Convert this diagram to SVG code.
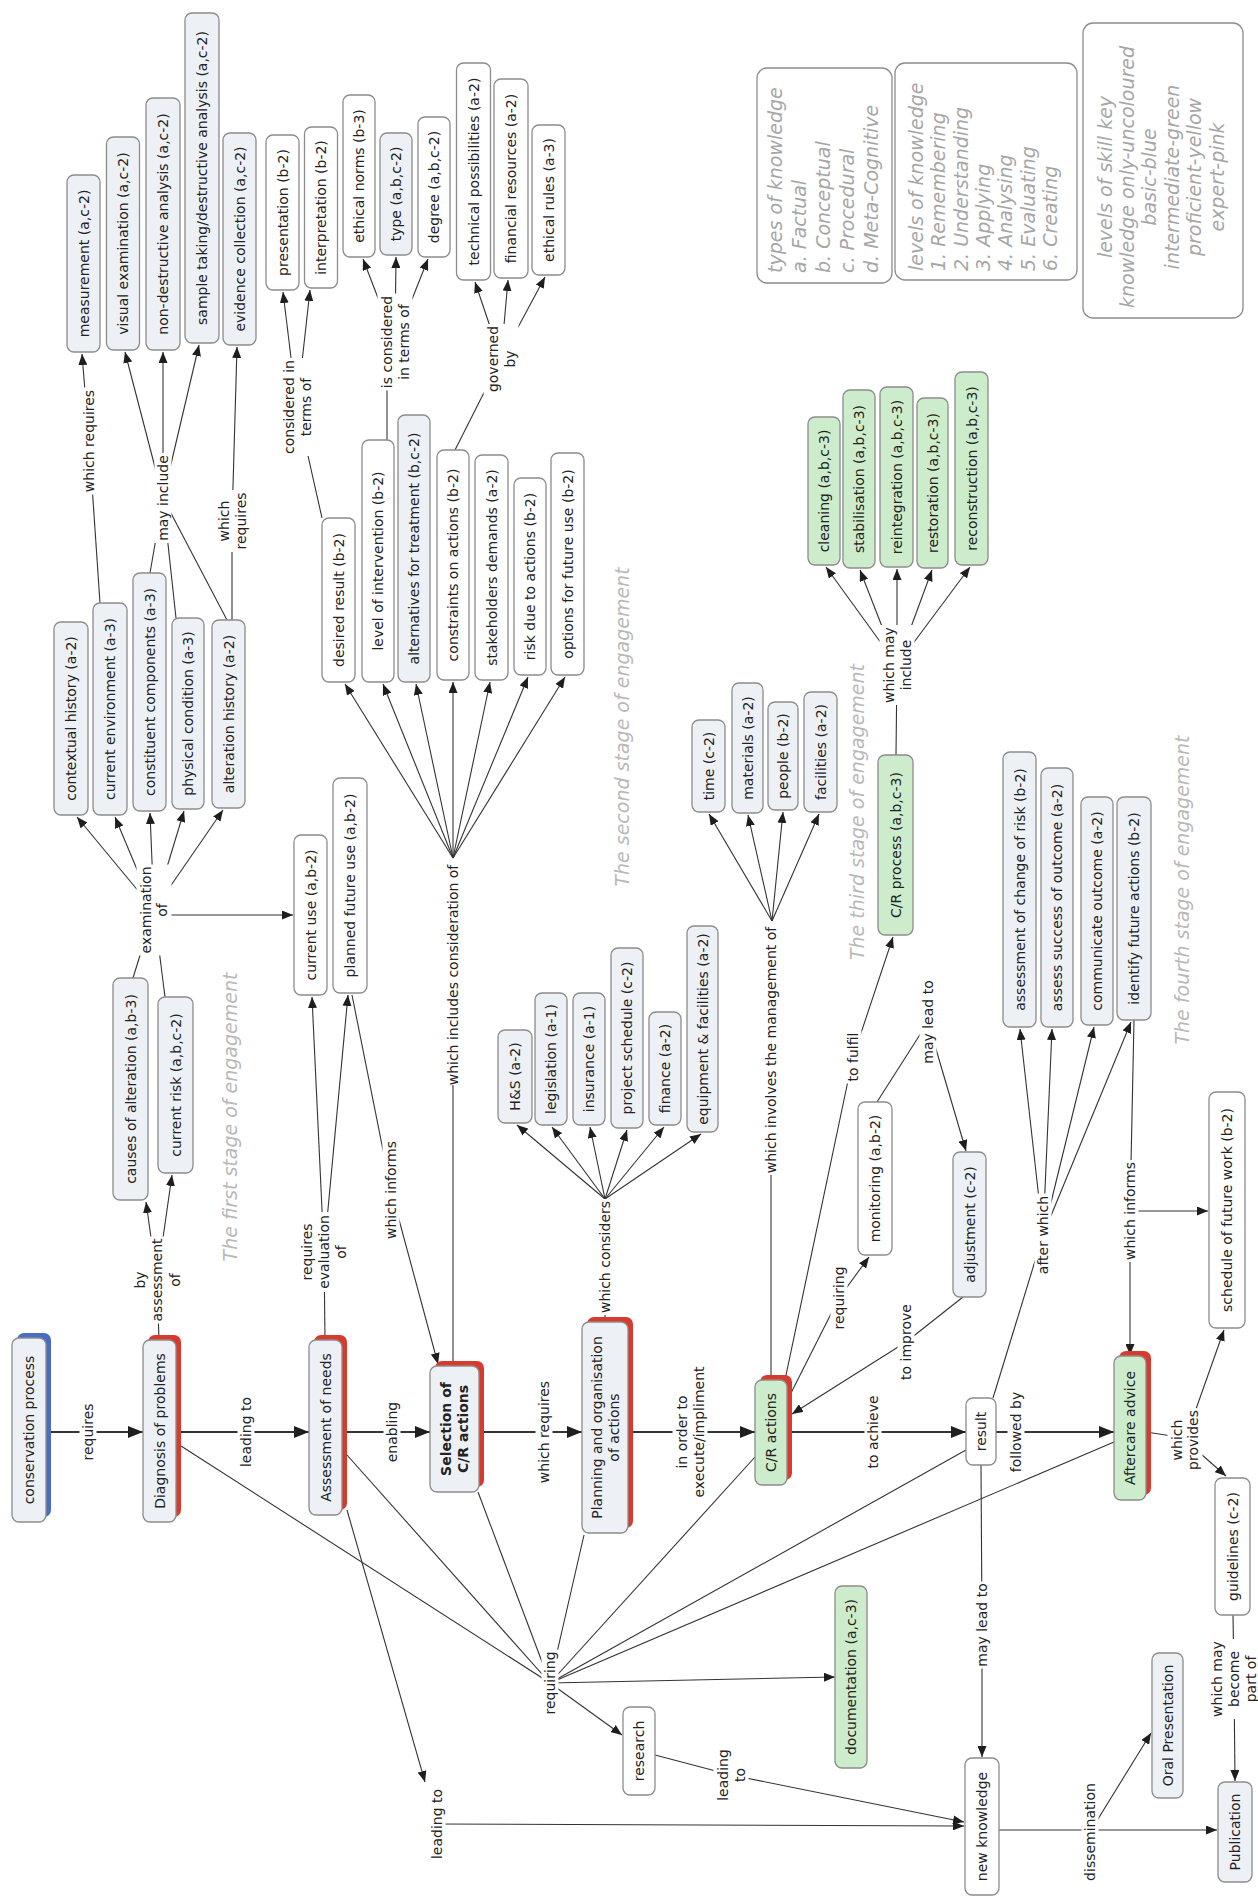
<svg xmlns="http://www.w3.org/2000/svg" width="1258" height="1899" viewBox="0 0 1258 1899">
<defs>
<style>
text { font-family: "DejaVu Sans", "Liberation Sans", sans-serif; font-size: 14px; text-anchor: middle; dominant-baseline: central; fill: #222; }
tspan { dominant-baseline: inherit; }
.node rect.box { stroke: #8c8c8c; stroke-width: 1.3; fill: #ffffff; }
.pale rect.box { fill: #edf1f6; }
.green rect.box { fill: #cdeccb; }
.red rect.sh { fill: #d83a2d; }
.blue rect.sh { fill: #4a6cc2; }
.bold text { font-weight: bold; }
#connectors line { stroke: #333; stroke-width: 1.1; fill: none; }
#connectors line.main { stroke-width: 2; }
#connectors .ar { marker-end: url(#ah); }
#connectors .arm { marker-end: url(#ahm); }
.lbl rect { fill: #ffffff; }
.stage text { font-size: 19px; font-style: italic; fill: #b8b8b8; }
.legend rect { fill: #ffffff; stroke: #8c8c8c; stroke-width: 1.3; }
.legend text { font-size: 19px; font-style: italic; fill: #a6a6a6; }
.legend .left text { text-anchor: start; }
</style>
<marker id="ah" viewBox="0 0 11 9" refX="11" refY="4.5" markerWidth="11" markerHeight="9" markerUnits="userSpaceOnUse" orient="auto"><path d="M0,0 L11,4.5 L0,9 z" fill="#1e1e1e"/></marker>
<marker id="ahm" viewBox="0 0 15 12" refX="15" refY="6" markerWidth="15" markerHeight="12" markerUnits="userSpaceOnUse" orient="auto"><path d="M0,0 L15,6 L0,12 z" fill="#1e1e1e"/></marker>
</defs>
<rect x="0" y="0" width="1258" height="1899" fill="#ffffff"/>

<!-- stage captions -->
<g class="stage">
<g transform="translate(230,1117) rotate(-90)"><text>The first stage of engagement</text></g>
<g transform="translate(622,727) rotate(-90)"><text>The second stage of engagement</text></g>
<g transform="translate(857,812) rotate(-90)"><text>The third stage of engagement</text></g>
<g transform="translate(1182,890) rotate(-90)"><text>The fourth stage of engagement</text></g>
</g>

<!-- legend boxes -->
<g class="legend">
<g id="key-types" class="left" transform="translate(824.5,175.5) rotate(-90)">
<rect x="-107.5" y="-67.5" width="215" height="135" rx="10"/>
<text x="-97.5" y="-49.5">types of knowledge</text>
<text x="-97.5" y="-25.5">a. Factual</text>
<text x="-97.5" y="-1.5">b. Conceptual</text>
<text x="-97.5" y="22.5">c. Procedural</text>
<text x="-97.5" y="46.5">d. Meta-Cognitive</text>
</g>
<g id="key-levels" class="left" transform="translate(986,171.5) rotate(-90)">
<rect x="-108.5" y="-91" width="217" height="182" rx="10"/>
<text x="-99.5" y="-70">levels of knowledge</text>
<text x="-99.5" y="-47.7">1. Remembering</text>
<text x="-99.5" y="-25.4">2. Understanding</text>
<text x="-99.5" y="-3.1">3. Applying</text>
<text x="-99.5" y="19.2">4. Analysing</text>
<text x="-99.5" y="41.5">5. Evaluating</text>
<text x="-99.5" y="63.8">6. Creating</text>
</g>
<g id="key-skill" transform="translate(1163,170.5) rotate(-90)">
<rect x="-147.5" y="-80" width="295" height="160" rx="10"/>
<text x="-6.5" y="-58.5">levels of skill key</text>
<text x="-6.5" y="-36.1">knowledge only-uncoloured</text>
<text x="-6.5" y="-13.7">basic-blue</text>
<text x="-6.5" y="8.7">intermediate-green</text>
<text x="-6.5" y="31.1">proficient-yellow</text>
<text x="-6.5" y="53.5">expert-pink</text>
</g>
</g>

<!-- connectors -->
<g id="connectors">
<line class="main arm" x1="46" y1="1432" x2="143" y2="1432"/>
<line class="main arm" x1="176" y1="1432" x2="309" y2="1432"/>
<line class="main arm" x1="342" y1="1432" x2="430" y2="1432"/>
<line class="main arm" x1="479" y1="1432" x2="582" y2="1432"/>
<line class="main arm" x1="628" y1="1432" x2="755" y2="1432"/>
<line class="main arm" x1="787" y1="1432" x2="966" y2="1432"/>
<line class="main arm" x1="996" y1="1432" x2="1114" y2="1432"/>
<line x1="1146" y1="1432" x2="1185" y2="1438"/>
<line class="ar" x1="1185" y1="1440" x2="1226" y2="1476"/>
<line class="ar" x1="1185" y1="1440" x2="1224" y2="1330"/>
<line x1="1233" y1="1615" x2="1234" y2="1679"/>
<line class="ar" x1="1234" y1="1679" x2="1235" y2="1781"/>
<line x1="981" y1="1465" x2="982" y2="1625"/>
<line class="ar" x1="982" y1="1625" x2="982" y2="1757"/>
<line class="ar" x1="999" y1="1830" x2="1217" y2="1830"/>
<line class="ar" x1="1090" y1="1832" x2="1151" y2="1733"/>
<line x1="655" y1="1755" x2="731" y2="1775"/>
<line class="ar" x1="731" y1="1775" x2="964" y2="1822"/>
<line class="ar" x1="347" y1="1510" x2="425" y2="1782"/>
<line class="ar" x1="437" y1="1824" x2="964" y2="1826"/>
<!-- links gathered by "requiring" -->
<line x1="181" y1="1446" x2="550" y2="1683"/>
<line x1="347" y1="1455" x2="550" y2="1683"/>
<line x1="478" y1="1492" x2="550" y2="1683"/>
<line x1="584" y1="1535" x2="550" y2="1683"/>
<line x1="755" y1="1457" x2="550" y2="1683"/>
<line x1="966" y1="1450" x2="550" y2="1683"/>
<line x1="1114" y1="1442" x2="550" y2="1683"/>
<line class="ar" x1="550" y1="1683" x2="835" y2="1677"/>
<line class="ar" x1="550" y1="1683" x2="622" y2="1735"/>
<!-- first stage -->
<line x1="159" y1="1340" x2="157" y2="1280"/>
<line class="ar" x1="157" y1="1280" x2="146" y2="1202"/>
<line class="ar" x1="157" y1="1280" x2="172" y2="1175"/>
<line x1="133" y1="978" x2="154" y2="910"/>
<line x1="165" y1="997" x2="154" y2="910"/>
<line class="ar" x1="154" y1="910" x2="77" y2="817"/>
<line class="ar" x1="154" y1="910" x2="115" y2="817"/>
<line class="ar" x1="154" y1="910" x2="150" y2="813"/>
<line class="ar" x1="154" y1="910" x2="184" y2="811"/>
<line class="ar" x1="154" y1="910" x2="223" y2="810"/>
<line class="ar" x1="160" y1="915" x2="293" y2="915"/>
<line x1="100" y1="603" x2="89" y2="441"/>
<line class="ar" x1="89" y1="441" x2="82" y2="354"/>
<line x1="150" y1="573" x2="163" y2="498"/>
<line x1="176" y1="618" x2="163" y2="498"/>
<line x1="227" y1="620" x2="163" y2="498"/>
<line class="ar" x1="163" y1="498" x2="125" y2="352"/>
<line class="ar" x1="163" y1="498" x2="163" y2="352"/>
<line class="ar" x1="163" y1="498" x2="199" y2="345"/>
<line x1="232" y1="620" x2="232" y2="521"/>
<line class="ar" x1="232" y1="521" x2="237" y2="347"/>
<line x1="325" y1="1340" x2="324" y2="1252"/>
<line class="ar" x1="324" y1="1252" x2="312" y2="997"/>
<line class="ar" x1="324" y1="1252" x2="348" y2="995"/>
<line x1="352" y1="995" x2="391" y2="1190"/>
<line class="ar" x1="391" y1="1190" x2="438" y2="1364"/>
<!-- second stage: considerations -->
<line x1="453" y1="1366" x2="453" y2="975"/>
<line class="ar" x1="453" y1="858" x2="345" y2="684"/>
<line class="ar" x1="453" y1="858" x2="383" y2="684"/>
<line class="ar" x1="453" y1="858" x2="416" y2="684"/>
<line class="ar" x1="453" y1="858" x2="453" y2="682"/>
<line class="ar" x1="453" y1="858" x2="490" y2="682"/>
<line class="ar" x1="453" y1="858" x2="528" y2="677"/>
<line class="ar" x1="453" y1="858" x2="565" y2="677"/>
<line x1="322" y1="518" x2="297" y2="407"/>
<line class="ar" x1="297" y1="407" x2="283" y2="292"/>
<line class="ar" x1="297" y1="407" x2="310" y2="290"/>
<line x1="387" y1="440" x2="387" y2="342"/>
<line class="ar" x1="395" y1="342" x2="363" y2="259"/>
<line class="ar" x1="395" y1="342" x2="396" y2="257"/>
<line class="ar" x1="395" y1="342" x2="428" y2="259"/>
<line x1="455" y1="450" x2="501" y2="359"/>
<line class="ar" x1="501" y1="359" x2="475" y2="282"/>
<line class="ar" x1="501" y1="359" x2="508" y2="280"/>
<line class="ar" x1="501" y1="359" x2="545" y2="277"/>
<!-- planning -->
<line x1="605" y1="1322" x2="605" y2="1257"/>
<line class="ar" x1="605" y1="1199" x2="517" y2="1125"/>
<line class="ar" x1="605" y1="1199" x2="552" y2="1127"/>
<line class="ar" x1="605" y1="1199" x2="590" y2="1127"/>
<line class="ar" x1="605" y1="1199" x2="627" y2="1130"/>
<line class="ar" x1="605" y1="1199" x2="664" y2="1127"/>
<line class="ar" x1="605" y1="1199" x2="701" y2="1134"/>
<!-- third stage -->
<line x1="771" y1="1380" x2="771" y2="1050"/>
<line class="ar" x1="772" y1="921" x2="709" y2="814"/>
<line class="ar" x1="772" y1="921" x2="748" y2="815"/>
<line class="ar" x1="772" y1="921" x2="783" y2="812"/>
<line class="ar" x1="772" y1="921" x2="819" y2="814"/>
<line x1="785" y1="1380" x2="853" y2="1057"/>
<line class="ar" x1="853" y1="1057" x2="893" y2="937"/>
<line x1="790" y1="1395" x2="839" y2="1298"/>
<line class="ar" x1="839" y1="1298" x2="869" y2="1257"/>
<line x1="877" y1="1102" x2="928" y2="1022"/>
<line class="ar" x1="928" y1="1022" x2="966" y2="1151"/>
<line x1="963" y1="1297" x2="906" y2="1342"/>
<line class="ar" x1="906" y1="1342" x2="792" y2="1414"/>
<line x1="896" y1="755" x2="897" y2="665"/>
<line class="ar" x1="897" y1="665" x2="826" y2="567"/>
<line class="ar" x1="897" y1="665" x2="860" y2="570"/>
<line class="ar" x1="897" y1="665" x2="897" y2="569"/>
<line class="ar" x1="897" y1="665" x2="932" y2="570"/>
<line class="ar" x1="897" y1="665" x2="970" y2="567"/>
<!-- fourth stage -->
<line x1="993" y1="1398" x2="1043" y2="1235"/>
<line class="ar" x1="1043" y1="1235" x2="1020" y2="1029"/>
<line class="ar" x1="1043" y1="1235" x2="1052" y2="1029"/>
<line class="ar" x1="1043" y1="1235" x2="1094" y2="1027"/>
<line class="ar" x1="1043" y1="1235" x2="1131" y2="1022"/>
<line x1="1134" y1="1020" x2="1130" y2="1211"/>
<line class="ar" x1="1130" y1="1211" x2="1130" y2="1355"/>
<line class="ar" x1="1130" y1="1211" x2="1208" y2="1211"/>
</g>

<!-- linking phrases -->
<g id="labels">
<g id="l-requires" class="lbl" transform="translate(88,1432) rotate(-90)"><rect x="-31" y="-8.5" width="62" height="17"/><text>requires</text></g>
<g id="l-leading-to-1" class="lbl" transform="translate(246,1432) rotate(-90)"><rect x="-37" y="-8.5" width="74" height="17"/><text>leading to</text></g>
<g id="l-enabling" class="lbl" transform="translate(392,1432) rotate(-90)"><rect x="-32.5" y="-8.5" width="65" height="17"/><text>enabling</text></g>
<g id="l-which-requires-1" class="lbl" transform="translate(544,1432) rotate(-90)"><rect x="-53.5" y="-8.5" width="107" height="17"/><text>which requires</text></g>
<g id="l-in-order-to" class="lbl" transform="translate(690,1432) rotate(-90)"><rect x="-68" y="-17.5" width="136" height="35"/><text><tspan x="0" y="-8.5">in order to</tspan><tspan x="0" y="8.5">execute/impliment</tspan></text></g>
<g id="l-to-achieve" class="lbl" transform="translate(873,1432) rotate(-90)"><rect x="-38.5" y="-8.5" width="77" height="17"/><text>to achieve</text></g>
<g id="l-followed-by" class="lbl" transform="translate(1016,1432) rotate(-90)"><rect x="-42" y="-8.5" width="84" height="17"/><text>followed by</text></g>
<g id="l-which-provides" class="lbl" transform="translate(1185,1440) rotate(-90)"><rect x="-32" y="-17.5" width="64" height="35"/><text><tspan x="0" y="-8">which</tspan><tspan x="0" y="8">provides</tspan></text></g>
<g id="l-may-become" class="lbl" transform="translate(1234,1679) rotate(-90)"><rect x="-40" y="-25.5" width="80" height="51"/><text><tspan x="0" y="-17">which may</tspan><tspan x="0" y="0">become</tspan><tspan x="0" y="17">part of</tspan></text></g>
<g id="l-may-lead-to-2" class="lbl" transform="translate(982,1625) rotate(-90)"><rect x="-43.5" y="-8.5" width="87" height="17"/><text>may lead to</text></g>
<g id="l-dissemination" class="lbl" transform="translate(1090,1832) rotate(-90)"><rect x="-51" y="-8.5" width="102" height="17"/><text>dissemination</text></g>
<g id="l-leading-to-2" class="lbl" transform="translate(731,1775) rotate(-90)"><rect x="-28" y="-17.5" width="56" height="35"/><text><tspan x="0" y="-8.5">leading</tspan><tspan x="0" y="8.5">to</tspan></text></g>
<g id="l-leading-to-3" class="lbl" transform="translate(437,1824) rotate(-90)"><rect x="-37" y="-8.5" width="74" height="17"/><text>leading to</text></g>
<g id="l-requiring-1" class="lbl" transform="translate(550,1683) rotate(-90)"><rect x="-33.5" y="-8.5" width="67" height="17"/><text>requiring</text></g>
<g id="l-by-assessment" class="lbl" transform="translate(157,1280) rotate(-90)"><rect x="-43.5" y="-25.5" width="87" height="51"/><text><tspan x="0" y="-17.5">by</tspan><tspan x="0" y="0">assessment</tspan><tspan x="0" y="17.5">of</tspan></text></g>
<g id="l-examination" class="lbl" transform="translate(154,910) rotate(-90)"><rect x="-45.5" y="-17.5" width="91" height="35"/><text><tspan x="0" y="-8">examination</tspan><tspan x="0" y="8">of</tspan></text></g>
<g id="l-requires-evaluation" class="lbl" transform="translate(324,1252) rotate(-90)"><rect x="-40" y="-25.5" width="80" height="51"/><text><tspan x="0" y="-17">requires</tspan><tspan x="0" y="0">evaluation</tspan><tspan x="0" y="17">of</tspan></text></g>
<g id="l-which-informs-1" class="lbl" transform="translate(391,1190) rotate(-90)"><rect x="-51" y="-8.5" width="102" height="17"/><text>which informs</text></g>
<g id="l-includes" class="lbl" transform="translate(453,975) rotate(-90)"><rect x="-110" y="-8.5" width="220" height="17"/><text>which includes consideration of</text></g>
<g id="l-considered" class="lbl" transform="translate(297,407) rotate(-90)"><rect x="-49" y="-17.5" width="98" height="35"/><text><tspan x="0" y="-8.5">considered in</tspan><tspan x="0" y="8.5">terms of</tspan></text></g>
<g id="l-is-considered" class="lbl" transform="translate(395,342) rotate(-90)"><rect x="-48.5" y="-17.5" width="97" height="35"/><text><tspan x="0" y="-8.5">is considered</tspan><tspan x="0" y="8.5">in terms of</tspan></text></g>
<g id="l-governed" class="lbl" transform="translate(501,359) rotate(-90)"><rect x="-35" y="-17.5" width="70" height="35"/><text><tspan x="0" y="-8.5">governed</tspan><tspan x="0" y="8.5">by</tspan></text></g>
<g id="l-which-requires-2" class="lbl" transform="translate(89,441) rotate(-90)"><rect x="-53.5" y="-8.5" width="107" height="17"/><text>which requires</text></g>
<g id="l-may-include" class="lbl" transform="translate(163,498) rotate(-90)"><rect x="-45" y="-8.5" width="90" height="17"/><text>may include</text></g>
<g id="l-which-requires-3" class="lbl" transform="translate(232,521) rotate(-90)"><rect x="-31" y="-17.5" width="62" height="35"/><text><tspan x="0" y="-8.5">which</tspan><tspan x="0" y="8.5">requires</tspan></text></g>
<g id="l-after-which" class="lbl" transform="translate(1043,1235) rotate(-90)"><rect x="-41.5" y="-8.5" width="83" height="17"/><text>after which</text></g>
<g id="l-which-informs-2" class="lbl" transform="translate(1130,1211) rotate(-90)"><rect x="-51" y="-8.5" width="102" height="17"/><text>which informs</text></g>
<g id="l-may-lead-to-1" class="lbl" transform="translate(928,1022) rotate(-90)"><rect x="-43.5" y="-8.5" width="87" height="17"/><text>may lead to</text></g>
<g id="l-to-improve" class="lbl" transform="translate(906,1342) rotate(-90)"><rect x="-40" y="-8.5" width="80" height="17"/><text>to improve</text></g>
<g id="l-requiring-2" class="lbl" transform="translate(839,1298) rotate(-90)"><rect x="-33.5" y="-8.5" width="67" height="17"/><text>requiring</text></g>
<g id="l-to-fulfil" class="lbl" transform="translate(853,1057) rotate(-90)"><rect x="-26.5" y="-8.5" width="53" height="17"/><text>to fulfil</text></g>
<g id="l-which-may-include" class="lbl" transform="translate(897,665) rotate(-90)"><rect x="-40" y="-17.5" width="80" height="35"/><text><tspan x="0" y="-8.5">which may</tspan><tspan x="0" y="8.5">include</tspan></text></g>
<g id="l-management" class="lbl" transform="translate(771,1050) rotate(-90)"><rect x="-125" y="-8.5" width="250" height="17"/><text>which involves the management of</text></g>
<g id="l-which-considers" class="lbl" transform="translate(605,1257) rotate(-90)"><rect x="-58" y="-8.5" width="116" height="17"/><text>which considers</text></g>
</g>

<!-- concepts -->
<g id="nodes">
<g id="n-measurement" class="node pale" transform="translate(83.5,263.5) rotate(-90)"><rect class="box" x="-88.5" y="-16.5" width="177" height="33" rx="7"/><text>measurement (a,c-2)</text></g>
<g id="n-visual-examination" class="node pale" transform="translate(123,243.5) rotate(-90)"><rect class="box" x="-106.5" y="-16.5" width="213" height="33" rx="7"/><text>visual examination (a,c-2)</text></g>
<g id="n-non-destructive" class="node pale" transform="translate(163,224) rotate(-90)"><rect class="box" x="-126" y="-17" width="252" height="34" rx="7"/><text>non-destructive analysis (a,c-2)</text></g>
<g id="n-sample-taking" class="node pale" transform="translate(202,178) rotate(-90)"><rect class="box" x="-165" y="-17" width="330" height="34" rx="7"/><text>sample taking/destructive analysis (a,c-2)</text></g>
<g id="n-evidence" class="node pale" transform="translate(239.5,239) rotate(-90)"><rect class="box" x="-106" y="-16.5" width="212" height="33" rx="7"/><text>evidence collection (a,c-2)</text></g>
<g id="n-presentation" class="node" transform="translate(282.5,212.5) rotate(-90)"><rect class="box" x="-77.5" y="-16.5" width="155" height="33" rx="7"/><text>presentation (b-2)</text></g>
<g id="n-interpretation" class="node" transform="translate(321,207.5) rotate(-90)"><rect class="box" x="-80.5" y="-16.5" width="161" height="33" rx="7"/><text>interpretation (b-2)</text></g>
<g id="n-ethical-norms" class="node" transform="translate(359,176) rotate(-90)"><rect class="box" x="-81" y="-16" width="162" height="32" rx="7"/><text>ethical norms (b-3)</text></g>
<g id="n-type" class="node pale" transform="translate(396,194) rotate(-90)"><rect class="box" x="-61" y="-16" width="122" height="32" rx="7"/><text>type (a,b,c-2)</text></g>
<g id="n-degree" class="node" transform="translate(434,187) rotate(-90)"><rect class="box" x="-70" y="-16" width="140" height="32" rx="7"/><text>degree (a,b,c-2)</text></g>
<g id="n-technical" class="node" transform="translate(473.5,171.5) rotate(-90)"><rect class="box" x="-108.5" y="-17" width="217" height="34" rx="7"/><text>technical possibilities (a-2)</text></g>
<g id="n-financial" class="node" transform="translate(511,178.5) rotate(-90)"><rect class="box" x="-99.5" y="-17" width="199" height="34" rx="7"/><text>financial resources (a-2)</text></g>
<g id="n-ethical-rules" class="node" transform="translate(548.5,200) rotate(-90)"><rect class="box" x="-75" y="-16.5" width="150" height="33" rx="7"/><text>ethical rules (a-3)</text></g>

<g id="n-contextual-history" class="node pale" transform="translate(71,718.5) rotate(-90)"><rect class="box" x="-96.5" y="-17" width="193" height="34" rx="7"/><text>contextual history (a-2)</text></g>
<g id="n-current-environment" class="node pale" transform="translate(110,709) rotate(-90)"><rect class="box" x="-106" y="-17" width="212" height="34" rx="7"/><text>current environment (a-3)</text></g>
<g id="n-constituent" class="node pale" transform="translate(149.5,692) rotate(-90)"><rect class="box" x="-119" y="-16.5" width="238" height="33" rx="7"/><text>constituent components (a-3)</text></g>
<g id="n-physical" class="node pale" transform="translate(188,713.5) rotate(-90)"><rect class="box" x="-95.5" y="-16" width="191" height="32" rx="7"/><text>physical condition (a-3)</text></g>
<g id="n-alteration-history" class="node pale" transform="translate(228.5,714) rotate(-90)"><rect class="box" x="-94" y="-16.5" width="188" height="33" rx="7"/><text>alteration history (a-2)</text></g>
<g id="n-desired-result" class="node" transform="translate(338.5,600) rotate(-90)"><rect class="box" x="-82" y="-16.5" width="164" height="33" rx="7"/><text>desired result (b-2)</text></g>
<g id="n-level" class="node" transform="translate(378,561) rotate(-90)"><rect class="box" x="-121" y="-16" width="242" height="32" rx="7"/><text>level of intervention (b-2)</text></g>
<g id="n-alternatives" class="node pale" transform="translate(414,548.5) rotate(-90)"><rect class="box" x="-133.5" y="-16" width="267" height="32" rx="7"/><text>alternatives for treatment (b,c-2)</text></g>
<g id="n-constraints" class="node" transform="translate(453,565) rotate(-90)"><rect class="box" x="-115" y="-16" width="230" height="32" rx="7"/><text>constraints on actions (b-2)</text></g>
<g id="n-stakeholders" class="node" transform="translate(491.5,567.5) rotate(-90)"><rect class="box" x="-112.5" y="-16.5" width="225" height="33" rx="7"/><text>stakeholders demands (a-2)</text></g>
<g id="n-risk-due" class="node" transform="translate(530,576.5) rotate(-90)"><rect class="box" x="-98.5" y="-16" width="197" height="32" rx="7"/><text>risk due to actions (b-2)</text></g>
<g id="n-options" class="node" transform="translate(567.5,564) rotate(-90)"><rect class="box" x="-111" y="-16.5" width="222" height="33" rx="7"/><text>options for future use (b-2)</text></g>
<g id="n-current-use" class="node" transform="translate(310.5,915) rotate(-90)"><rect class="box" x="-80" y="-16.5" width="160" height="33" rx="7"/><text>current use (a,b-2)</text></g>
<g id="n-planned-use" class="node" transform="translate(350,885.5) rotate(-90)"><rect class="box" x="-107.5" y="-17" width="215" height="34" rx="7"/><text>planned future use (a,b-2)</text></g>
<g id="n-causes" class="node pale" transform="translate(130.5,1089) rotate(-90)"><rect class="box" x="-111" y="-17.5" width="222" height="35" rx="7"/><text>causes of alteration (a,b-3)</text></g>
<g id="n-current-risk" class="node pale" transform="translate(175.5,1085) rotate(-90)"><rect class="box" x="-88" y="-17.5" width="176" height="35" rx="7"/><text>current risk (a,b,c-2)</text></g>

<g id="n-time" class="node pale" transform="translate(708.5,766) rotate(-90)"><rect class="box" x="-46" y="-16.5" width="92" height="33" rx="7"/><text>time (c-2)</text></g>
<g id="n-materials" class="node pale" transform="translate(747.5,748) rotate(-90)"><rect class="box" x="-65" y="-15.5" width="130" height="31" rx="7"/><text>materials (a-2)</text></g>
<g id="n-people" class="node pale" transform="translate(783,756) rotate(-90)"><rect class="box" x="-54" y="-15" width="108" height="30" rx="7"/><text>people (b-2)</text></g>
<g id="n-facilities" class="node pale" transform="translate(820.5,752) rotate(-90)"><rect class="box" x="-60" y="-16.5" width="120" height="33" rx="7"/><text>facilities (a-2)</text></g>

<g id="n-cleaning" class="node green" transform="translate(824,491) rotate(-90)"><rect class="box" x="-74" y="-16" width="148" height="32" rx="7"/><text>cleaning (a,b,c-3)</text></g>
<g id="n-stabilisation" class="node green" transform="translate(859,479) rotate(-90)"><rect class="box" x="-89" y="-16" width="178" height="32" rx="7"/><text>stabilisation (a,b,c-3)</text></g>
<g id="n-reintegration" class="node green" transform="translate(896.5,477) rotate(-90)"><rect class="box" x="-90" y="-16.5" width="180" height="33" rx="7"/><text>reintegration (a,b,c-3)</text></g>
<g id="n-restoration" class="node green" transform="translate(932.5,483) rotate(-90)"><rect class="box" x="-85" y="-15.5" width="170" height="31" rx="7"/><text>restoration (a,b,c-3)</text></g>
<g id="n-reconstruction" class="node green" transform="translate(971.5,468.5) rotate(-90)"><rect class="box" x="-96.5" y="-16.5" width="193" height="33" rx="7"/><text>reconstruction (a,b,c-3)</text></g>
<g id="n-cr-process" class="node green" transform="translate(895.5,845) rotate(-90)"><rect class="box" x="-90" y="-17.5" width="180" height="35" rx="7"/><text>C/R process (a,b,c-3)</text></g>

<g id="n-change-of-risk" class="node pale" transform="translate(1019.5,889.5) rotate(-90)"><rect class="box" x="-137.5" y="-16.5" width="275" height="33" rx="7"/><text>assessment of change of risk (b-2)</text></g>
<g id="n-assess-success" class="node pale" transform="translate(1057,897.5) rotate(-90)"><rect class="box" x="-129.5" y="-16" width="259" height="32" rx="7"/><text>assess success of outcome (a-2)</text></g>
<g id="n-communicate" class="node pale" transform="translate(1097,911) rotate(-90)"><rect class="box" x="-114" y="-16" width="228" height="32" rx="7"/><text>communicate outcome (a-2)</text></g>
<g id="n-identify" class="node pale" transform="translate(1134,908.5) rotate(-90)"><rect class="box" x="-111.5" y="-17" width="223" height="34" rx="7"/><text>identify future actions (b-2)</text></g>

<g id="n-hs" class="node pale" transform="translate(515,1076.5) rotate(-90)"><rect class="box" x="-46.5" y="-17" width="93" height="34" rx="7"/><text>H&amp;S (a-2)</text></g>
<g id="n-legislation" class="node pale" transform="translate(551,1059) rotate(-90)"><rect class="box" x="-66" y="-16" width="132" height="32" rx="7"/><text>legislation (a-1)</text></g>
<g id="n-insurance" class="node pale" transform="translate(589,1059) rotate(-90)"><rect class="box" x="-66" y="-16" width="132" height="32" rx="7"/><text>insurance (a-1)</text></g>
<g id="n-project-schedule" class="node pale" transform="translate(627,1038) rotate(-90)"><rect class="box" x="-90" y="-16" width="180" height="32" rx="7"/><text>project schedule (c-2)</text></g>
<g id="n-finance" class="node pale" transform="translate(665,1068.5) rotate(-90)"><rect class="box" x="-56.5" y="-16" width="113" height="32" rx="7"/><text>finance (a-2)</text></g>
<g id="n-equipment" class="node pale" transform="translate(702.5,1029) rotate(-90)"><rect class="box" x="-103" y="-15.5" width="206" height="31" rx="7"/><text>equipment &amp; facilities (a-2)</text></g>

<g id="n-monitoring" class="node" transform="translate(875,1178.5) rotate(-90)"><rect class="box" x="-76.5" y="-17" width="153" height="34" rx="7"/><text>monitoring (a,b-2)</text></g>
<g id="n-adjustment" class="node pale" transform="translate(969.5,1224.5) rotate(-90)"><rect class="box" x="-72.5" y="-16.5" width="145" height="33" rx="7"/><text>adjustment (c-2)</text></g>
<g id="n-schedule" class="node" transform="translate(1227,1210) rotate(-90)"><rect class="box" x="-118" y="-18" width="236" height="36" rx="7"/><text>schedule of future work (b-2)</text></g>

<g id="n-conservation-process" class="node pale blue" transform="translate(29,1430) rotate(-90)"><rect class="sh" x="-87" y="-12" width="184" height="34" rx="7"/><rect class="box" x="-92" y="-17" width="184" height="34" rx="7"/><text>conservation process</text></g>
<g id="n-diagnosis" class="node pale red" transform="translate(159.5,1431) rotate(-90)"><rect class="sh" x="-86" y="-11.5" width="182" height="33" rx="7"/><rect class="box" x="-91" y="-16.5" width="182" height="33" rx="7"/><text>Diagnosis of problems</text></g>
<g id="n-assessment" class="node pale red" transform="translate(325.5,1427.5) rotate(-90)"><rect class="sh" x="-82.5" y="-11.5" width="175" height="33" rx="7"/><rect class="box" x="-87.5" y="-16.5" width="175" height="33" rx="7"/><text>Assessment of needs</text></g>
<g id="n-selection" class="node pale red bold" transform="translate(454.5,1429) rotate(-90)"><rect class="sh" x="-58" y="-19.5" width="126" height="49" rx="7"/><rect class="box" x="-63" y="-24.5" width="126" height="49" rx="7"/><text><tspan x="0" y="-8.5">Selection of</tspan><tspan x="0" y="8.5">C/R actions</tspan></text></g>
<g id="n-planning" class="node pale red" transform="translate(605,1427.5) rotate(-90)"><rect class="sh" x="-100.5" y="-18" width="211" height="46" rx="7"/><rect class="box" x="-105.5" y="-23" width="211" height="46" rx="7"/><text><tspan x="0" y="-8.5">Planning and organisation</tspan><tspan x="0" y="8.5">of actions</tspan></text></g>
<g id="n-cr-actions" class="node green red" transform="translate(771,1432.5) rotate(-90)"><rect class="sh" x="-47.5" y="-11" width="105" height="32" rx="7"/><rect class="box" x="-52.5" y="-16" width="105" height="32" rx="7"/><text>C/R actions</text></g>
<g id="n-result" class="node" transform="translate(981,1431.5) rotate(-90)"><rect class="box" x="-33.5" y="-15" width="67" height="30" rx="7"/><text>result</text></g>
<g id="n-aftercare" class="node green red" transform="translate(1130,1428) rotate(-90)"><rect class="sh" x="-67" y="-11" width="144" height="32" rx="7"/><rect class="box" x="-72" y="-16" width="144" height="32" rx="7"/><text>Aftercare advice</text></g>
<g id="n-guidelines" class="node" transform="translate(1232.5,1546.5) rotate(-90)"><rect class="box" x="-68.5" y="-17.5" width="137" height="35" rx="7"/><text>guidelines (c-2)</text></g>
<g id="n-documentation" class="node green" transform="translate(851,1677) rotate(-90)"><rect class="box" x="-91" y="-16" width="182" height="32" rx="7"/><text>documentation (a,c-3)</text></g>
<g id="n-research" class="node" transform="translate(639,1751) rotate(-90)"><rect class="box" x="-44" y="-16" width="88" height="32" rx="7"/><text>research</text></g>
<g id="n-new-knowledge" class="node" transform="translate(982,1826.5) rotate(-90)"><rect class="box" x="-68.5" y="-17" width="137" height="34" rx="7"/><text>new knowledge</text></g>
<g id="n-oral-presentation" class="node pale" transform="translate(1167.5,1725.5) rotate(-90)"><rect class="box" x="-72.5" y="-15.5" width="145" height="31" rx="7"/><text>Oral Presentation</text></g>
<g id="n-publication" class="node pale" transform="translate(1235,1832) rotate(-90)"><rect class="box" x="-50" y="-17" width="100" height="34" rx="7"/><text>Publication</text></g>
</g>
</svg>
